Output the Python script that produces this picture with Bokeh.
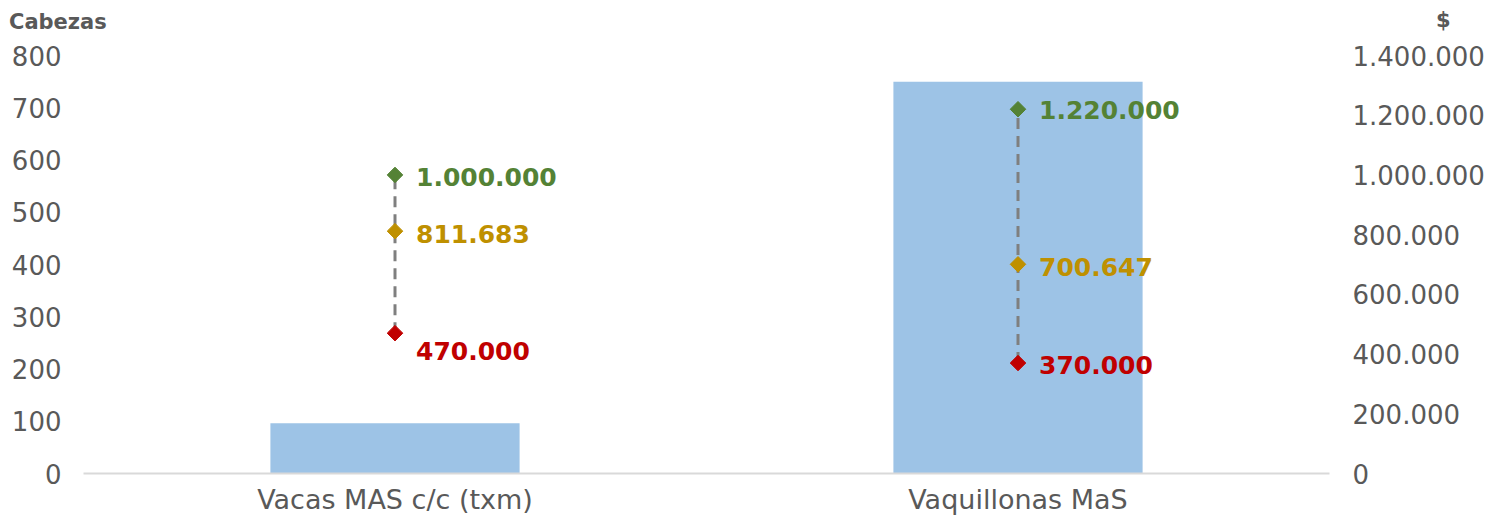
from bokeh.plotting import figure
from bokeh.layouts import column
from bokeh.models import (FactorRange, Range1d, LinearAxis, FixedTicker,
                          CustomJSTickFormatter, ColumnDataSource, Div)
from bokeh.core.properties import value
from bokeh.embed import file_html
from bokeh.resources import INLINE

# ---------------- data ----------------
categories = ["Vacas MAS c/c (txm)", "Vaquillonas MaS"]
cabezas = [96, 750]                 # left axis (Cabezas)
precio_max = [1000000, 1220000]     # right axis ($)
precio_prom = [811683, 700647]
precio_min = [470000, 370000]
left_ticks = [0, 100, 200, 300, 400, 500, 600, 700, 800]
right_ticks = [0, 200000, 400000, 600000, 800000, 1000000, 1200000, 1400000]
axis_titles = ["Cabezas", "$"]

# ---------------- style ----------------
FONT = "DejaVu Sans"
GRAY = "#595959"
BAR = "#9DC3E6"
GREEN = "#548235"
GOLD = "#BF9000"
RED = "#C00000"
label_dy_max = [2, 1]
label_dy_prom = [3, 3]
label_dy_min = [18, 2]
W, H_HEAD, H_MAIN = 1504, 42, 475
title_left = [9, 1436]
title_top = [9, 7]


def fmt(v):
    return f"{v:,}".replace(",", ".")


# ---------------- header with the two axis titles ----------------
spans = "".join(
    f'<span style="position:absolute;left:{x}px;top:{y}px;line-height:26px;'
    f'white-space:nowrap">{t}</span>'
    for t, x, y in zip(axis_titles, title_left, title_top))
head = Div(text=(f'<div style="position:relative;width:{W}px;height:{H_HEAD}px;'
                 f'font-family:\'{FONT}\';font-weight:bold;font-size:21px;'
                 f'color:{GRAY};margin:0;padding:0">{spans}</div>'),
           width=W, height=H_HEAD, margin=0)

# ---------------- main chart ----------------
p = figure(x_range=FactorRange(factors=categories, range_padding=0),
           y_range=Range1d(0, 800),
           width=W, height=H_MAIN,
           min_border_left=83, min_border_right=175,
           min_border_top=13, min_border_bottom=44,
           output_backend="svg", toolbar_location=None, margin=0)
p.outline_line_color = None
p.xgrid.grid_line_color = None
p.ygrid.grid_line_color = None

p.extra_y_ranges = {"money": Range1d(0, 1400000)}

# left axis
yax = p.yaxis[0]
yax.ticker = FixedTicker(ticks=left_ticks)
yax.axis_line_color = None
yax.major_tick_line_color = None
yax.minor_tick_line_color = None
yax.major_tick_out = 0
yax.major_label_text_font = FONT
yax.major_label_text_font_size = "26px"
yax.major_label_text_color = GRAY
yax.major_label_standoff = 22

# right axis
rax = LinearAxis(y_range_name="money", ticker=FixedTicker(ticks=right_ticks),
                 formatter=CustomJSTickFormatter(code="""
                     return tick.toFixed(0).replace(/\\B(?=(\\d{3})+(?!\\d))/g, '.');
                 """))
rax.axis_line_color = None
rax.major_tick_line_color = None
rax.minor_tick_line_color = None
rax.major_tick_out = 0
rax.major_label_text_font = FONT
rax.major_label_text_font_size = "26px"
rax.major_label_text_color = GRAY
rax.major_label_standoff = 23
p.add_layout(rax, "right")

# bottom axis (baseline + category labels)
xax = p.xaxis[0]
xax.axis_line_color = "#D9D9D9"
xax.axis_line_width = 2
xax.major_tick_line_color = None
xax.minor_tick_line_color = None
xax.major_tick_out = 0
xax.major_tick_in = 0
xax.major_label_text_font = FONT
xax.major_label_text_font_size = "27px"
xax.major_label_text_color = GRAY
xax.major_label_standoff = 10

# bars
src = ColumnDataSource(dict(x=categories, top=cabezas))
p.vbar(x="x", top="top", width=0.4, source=src, fill_color=BAR, line_color=None)

# dashed range lines
p.segment(x0=categories, y0=precio_min, x1=categories, y1=precio_max,
          y_range_name="money", line_color="#7F7F7F", line_width=3,
          line_dash="11 7")

# markers + labels
for vals, col, dy in [(precio_max, GREEN, label_dy_max),
                      (precio_prom, GOLD, label_dy_prom),
                      (precio_min, RED, label_dy_min)]:
    p.scatter(x=categories, y=vals, y_range_name="money", marker="square",
              angle=0.785398, size=11, fill_color=col, line_color=col)
    s = ColumnDataSource(dict(x=categories, y=vals, t=[fmt(v) for v in vals], dy=dy))
    p.text(x="x", y="y", text="t", source=s, y_range_name="money",
           x_offset=21, y_offset="dy", text_align="left", text_baseline="middle",
           text_font=value(FONT), text_font_style="bold",
           text_font_size="25px", text_color=col)

layout = column(head, p, spacing=0)
open("out.html", "w").write(file_html(layout, INLINE))
